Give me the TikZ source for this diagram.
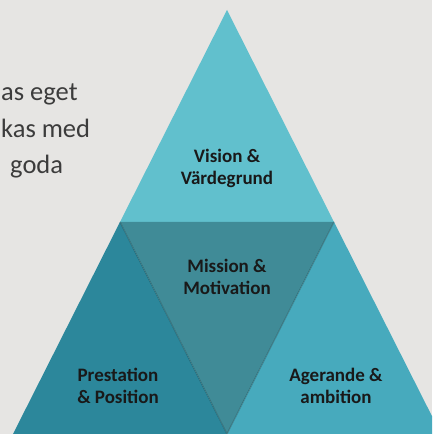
\documentclass[tikz,border=0pt]{standalone}
\usepackage{fontspec}
\setmainfont{Carlito}

\definecolor{bggray}{HTML}{E6E5E3}
\definecolor{topcyan}{HTML}{61C0CD}
\definecolor{midteal}{HTML}{408B97}
\definecolor{leftteal}{HTML}{2C879B}
\definecolor{rightteal}{HTML}{47AABD}
\definecolor{bodygray}{HTML}{3C3C3C}

\begin{document}
\begin{tikzpicture}[x=1pt,y=1pt,
    label/.style={font=\bfseries\fontsize{19}{22}\selectfont, align=center, text=black!90},
    body/.style={font=\fontsize{26.5}{37}\selectfont, text=bodygray, anchor=base west, inner sep=0}]
        \useasboundingbox (0,0) rectangle (432,434);
        \clip (0,0) rectangle (432,434);
        \fill[bggray] (0,0) rectangle (432,434);

        % corners of the big triangle and the inner one
        \coordinate (apex) at (227,424);
        \coordinate (bl) at (120,212);
        \coordinate (br) at (334,212);
        \coordinate (mid) at (227,0);
        \coordinate (farleft) at (13,0);
        \coordinate (farright) at (441,0);

        \fill[topcyan] (apex) -- (br) -- (bl) -- cycle;
        \fill[leftteal] (bl) -- (mid) -- (farleft) -- cycle;
        \fill[rightteal] (br) -- (farright) -- (mid) -- cycle;
        \fill[midteal] (bl) -- (br) -- (mid) -- cycle;
        \draw[black, opacity=0.18, line width=1.2pt] (bl) -- (mid) -- (br);

        \node[label] (vision) at (227,266) {Vision \&\\Värdegrund};
        \node[label] (mission) at (227,157) {Mission \&\\Motivation};
        \node[label] (prestation) at (118,48) {Prestation\\\& Position};
        \node[label] (agerande) at (336,48) {Agerande \&\\ambition};

        % text running in from the left edge
        \node[body] (line1) at (1,333) {as eget};
        \node[body] (line2) at (1,296) {kas med};
        \node[body] (line3) at (10,260) {goda};
\end{tikzpicture}
\end{document}
